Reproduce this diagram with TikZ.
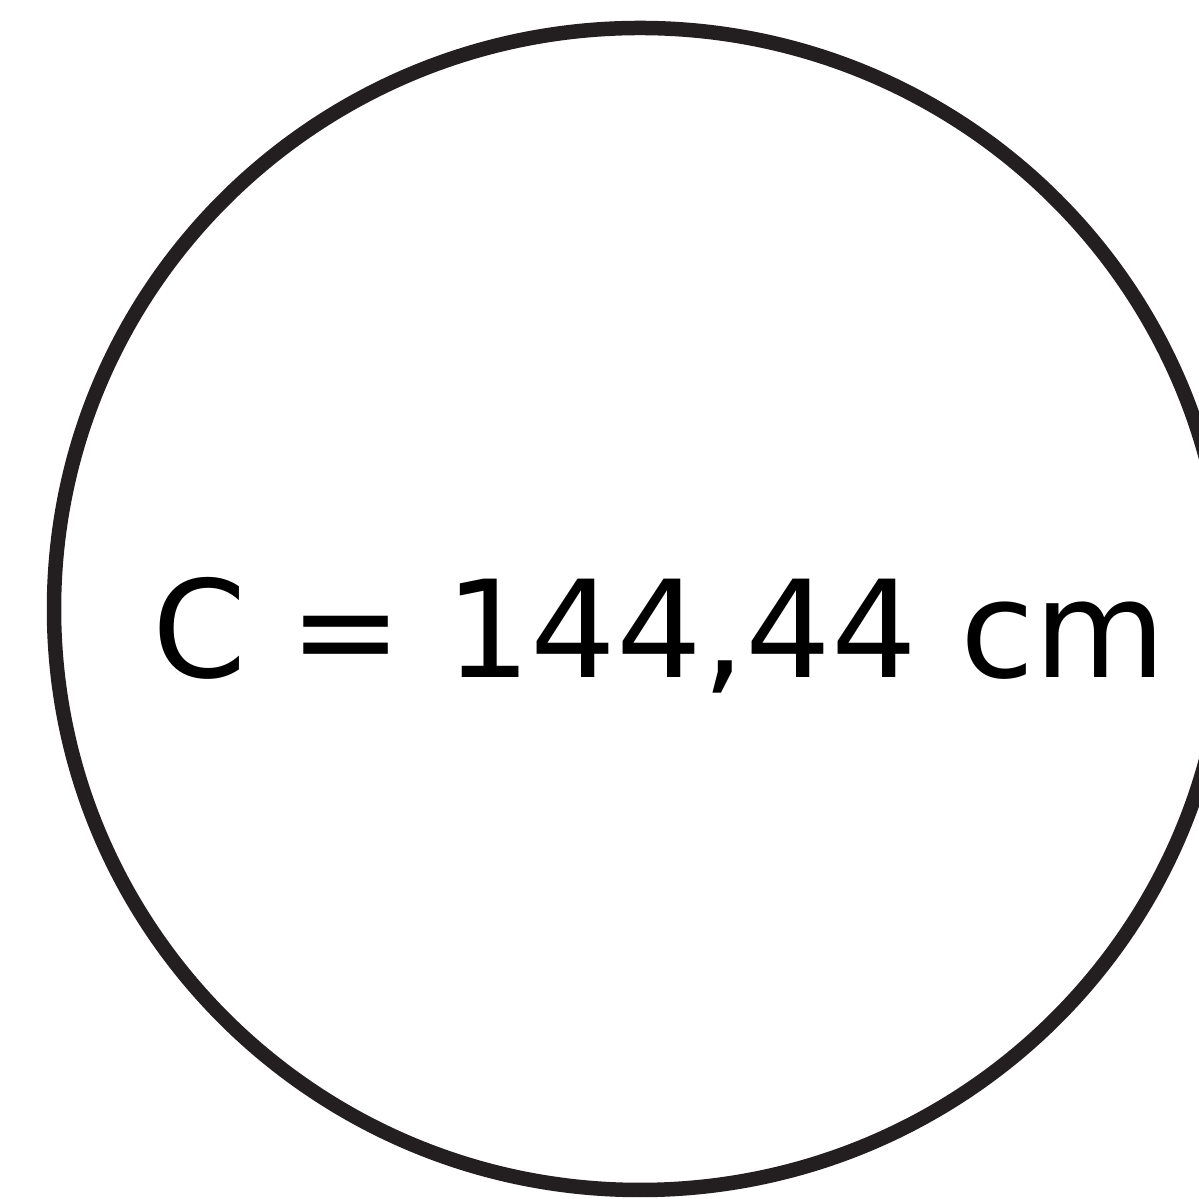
\documentclass[tikz,border=0pt]{standalone}
\usepackage{fontspec}
\setmainfont{DejaVu Sans}
\definecolor{ink}{HTML}{231F20}
\begin{document}
\begin{tikzpicture}[x=1cm,y=1cm]
\tikzset{rim/.style={draw=ink,line width=1.45mm},
         lbl/.style={anchor=base,inner sep=0pt,font=\fontsize{38.4}{46}\selectfont}}
\useasboundingbox (0,0) rectangle (11.98,11.99);
\fill[white] (0,0) rectangle (11.98,11.99);
\coordinate (c) at (6.40,5.90);
\draw[rim] (c) ellipse [x radius=5.86, y radius=5.81];
\node[lbl] (t) at (6.59,5.21) {C = 144,44 cm};
\end{tikzpicture}
\end{document}
